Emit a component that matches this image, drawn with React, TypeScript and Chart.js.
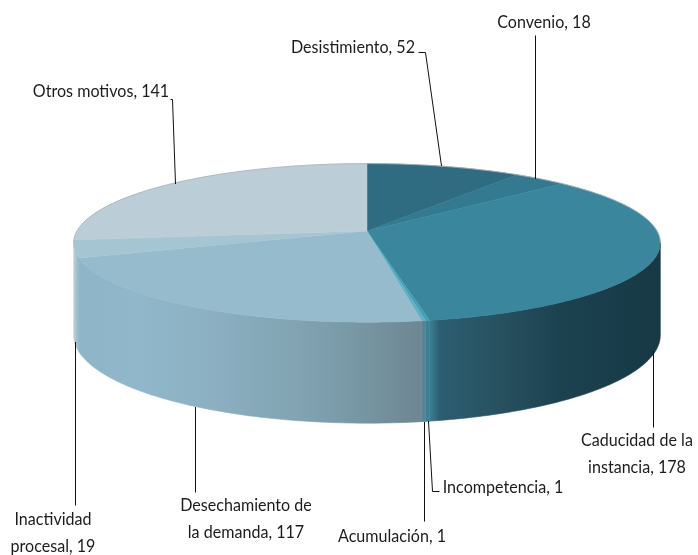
import { useEffect, useRef } from "react";
import { Chart, PieController, ArcElement } from "chart.js";

const categories = ["Desistimiento", "Convenio", "Caducidad de la instancia", "Incompetencia", "Acumulación", "Desechamiento de la demanda", "Inactividad procesal", "Otros motivos"];
const counts = [52, 18, 178, 1, 1, 117, 19, 141];
const topColors = ["#2f6b81", "#337a90", "#39869d", "#45a0b6", "#5fb0c4", "#96bbcc", "#a6c5d2", "#bbced8"];
const wallStops: [number, string][][] = [
  [[0, "#1a3e4b"], [1, "#1a3e4b"]],
  [[0, "#1a3e4b"], [1, "#1a3e4b"]],
  [[0.615, "#3d8096"], [0.63, "#2b5e71"], [0.72, "#27505f"], [0.8, "#1c4250"], [0.92, "#183a47"], [1, "#163643"]],
  [[0, "#3d8096"], [1, "#3d8096"]],
  [[0, "#5a8292"], [1, "#5a8292"]],
  [[0.1, "#8db5c7"], [0.2, "#90b8ca"], [0.3, "#8cb0c2"], [0.45, "#7fa1af"], [0.6, "#6d8793"], [0.62, "#6a8490"]],
  [[0.106, "#c3ccd1"], [0.112, "#93bacc"], [1, "#93bacc"]],
  [[0, "#c3ccd1"], [1, "#c3ccd1"]],
];
// label box: text anchor, line break after N words, leader start nudge, leader path (null x = straight down/up)
const labelLayout: any[] = [
  { x: 353, y: 48, split: 0, dx: -3, path: [[425, 52], [418, 52]], near: false },
  { x: 544, y: 23, split: 0, dx: -5, path: [[null, 35]], near: false },
  { x: 637, y: 441, split: 3, dx: -3, path: [[null, 427]], near: true },
  { x: 503, y: 488, split: 0, dx: 0, path: [[432, 491], [439, 491]], near: true },
  { x: 392, y: 537, split: 0, dx: 0, path: [[null, 521]], near: true },
  { x: 246, y: 506, split: 2, dx: -2, path: [[null, 492]], near: true },
  { x: 53, y: 520, split: 1, dx: 1, path: [[null, 505]], near: true },
  { x: 101, y: 92, split: 0, dx: 4, path: [[172, 99], [170, 99]], near: false },
];
const fontCss = "16.5px Lato, Carlito, sans-serif";
const condense = 0.975;

const VIEW = { cx: 367, A: 290, p: 0.15, topY: 231, topB: 77.5, botY: 322, botB: 86 };
function project(theta: number, bottom = false) {
  const u = Math.sin(theta), v = Math.cos(theta), w = 1 + VIEW.p * v;
  const cy = bottom ? VIEW.botY : VIEW.topY, B = bottom ? VIEW.botB : VIEW.topB;
  return { x: VIEW.cx + (VIEW.A * u) / w, y: cy - (B * v) / w };
}
const thetaOf = (a: number) => a + Math.PI / 2;
const LEFT = Math.acos(-VIEW.p);
const RIGHT = 2 * Math.PI - LEFT;

class Arc3D extends ArcElement {
  static id = "arc3d";
  draw(ctx: CanvasRenderingContext2D) {
    const a = thetaOf(this.startAngle), b = thetaOf(this.endAngle);
    const n = Math.max(2, Math.ceil((b - a) * 60));
    ctx.save();
    ctx.beginPath();
    ctx.moveTo(VIEW.cx, VIEW.topY);
    for (let i = 0; i <= n; i++) {
      const p = project(a + ((b - a) * i) / n);
      ctx.lineTo(p.x, p.y);
    }
    ctx.closePath();
    ctx.fillStyle = this.options.backgroundColor as string;
    ctx.fill();
    ctx.strokeStyle = this.options.backgroundColor as string;
    ctx.lineWidth = 0.5;
    ctx.stroke();
    ctx.restore();
  }
}

class Pie3DController extends PieController {
  static id = "pie3d";
  static defaults = { dataElementType: "arc3d" };
  draw() {
    const ctx = this.chart.ctx;
    const arcs = this.getMeta().data as any[];
    arcs.forEach((arc, i) => {
      const a = Math.max(thetaOf(arc.startAngle), LEFT);
      const b = Math.min(thetaOf(arc.endAngle), RIGHT);
      if (b <= a) return;
      const grad = ctx.createLinearGradient(0, 0, this.chart.width, 0);
      wallStops[i].forEach(([o, c]) => grad.addColorStop(o, c));
      const n = Math.max(2, Math.ceil((b - a) * 60));
      ctx.beginPath();
      for (let k = 0; k <= n; k++) {
        const p = project(a + ((b - a) * k) / n);
        k ? ctx.lineTo(p.x, p.y) : ctx.moveTo(p.x, p.y);
      }
      for (let k = n; k >= 0; k--) {
        const p = project(a + ((b - a) * k) / n, true);
        ctx.lineTo(p.x, p.y);
      }
      ctx.closePath();
      ctx.fillStyle = grad;
      ctx.fill();
      ctx.strokeStyle = grad;
      ctx.lineWidth = 0.6;
      ctx.stroke();
    });
    super.draw();
    // pale rim of the top face
    ctx.save();
    ctx.beginPath();
    for (let k = -90; k <= 90; k++) {
      const p = project((k * Math.PI) / 180 * (LEFT / (Math.PI / 2)));
      k === -90 ? ctx.moveTo(p.x, p.y) : ctx.lineTo(p.x, p.y);
    }
    ctx.strokeStyle = "rgba(170,178,182,0.8)";
    ctx.lineWidth = 1;
    ctx.stroke();
    ctx.restore();
  }
}

const labelPlugin = {
  id: "leaderLabels",
  afterDatasetsDraw(chart: any) {
    const ctx: CanvasRenderingContext2D = chart.ctx;
    const arcs = chart.getDatasetMeta(0).data;
    ctx.save();
    ctx.font = fontCss;
    ctx.textAlign = "center";
    ctx.textBaseline = "middle";
    arcs.forEach((arc: any, i: number) => {
      const L = labelLayout[i];
      const s = project(thetaOf((arc.startAngle + arc.endAngle) / 2), L.near);
      const sx = Math.round(s.x + L.dx) + 0.5;
      ctx.beginPath();
      ctx.moveTo(sx, Math.round(s.y));
      L.path.forEach(([x, y]: [number | null, number]) => ctx.lineTo(x === null ? sx : x + 0.5, y + 0.5));
      ctx.strokeStyle = "#111";
      ctx.lineWidth = 1;
      ctx.stroke();
      const words = `${chart.data.labels[i]}, ${chart.data.datasets[0].data[i]}`.split(" ");
      const lines = L.split ? [words.slice(0, L.split).join(" "), words.slice(L.split).join(" ")] : [words.join(" ")];
      ctx.fillStyle = "#1c1c1c";
      lines.forEach((t, k) => ctx.fillText(t, L.x, L.y + k * 27, ctx.measureText(t).width * condense));
    });
    ctx.restore();
  },
};

Chart.register(Arc3D, Pie3DController);

export default function App() {
  const ref = useRef<HTMLCanvasElement>(null);
  useEffect(() => {
    const chart = new Chart(ref.current!, {
      type: "pie3d" as any,
      data: { labels: categories, datasets: [{ data: counts, backgroundColor: topColors, borderWidth: 0 }] },
      options: {
        animation: false,
        responsive: false,
        rotation: 0,
        plugins: { legend: { display: false } as any, tooltip: { enabled: false } as any },
      } as any,
      plugins: [labelPlugin],
    });
    return () => chart.destroy();
  }, []);
  return (
    <div style={{ position: "absolute", left: 0, top: 0, width: 698, height: 555, background: "#fff" }}>
      <canvas ref={ref} width={698} height={555} style={{ display: "block" }} />
    </div>
  );
}
